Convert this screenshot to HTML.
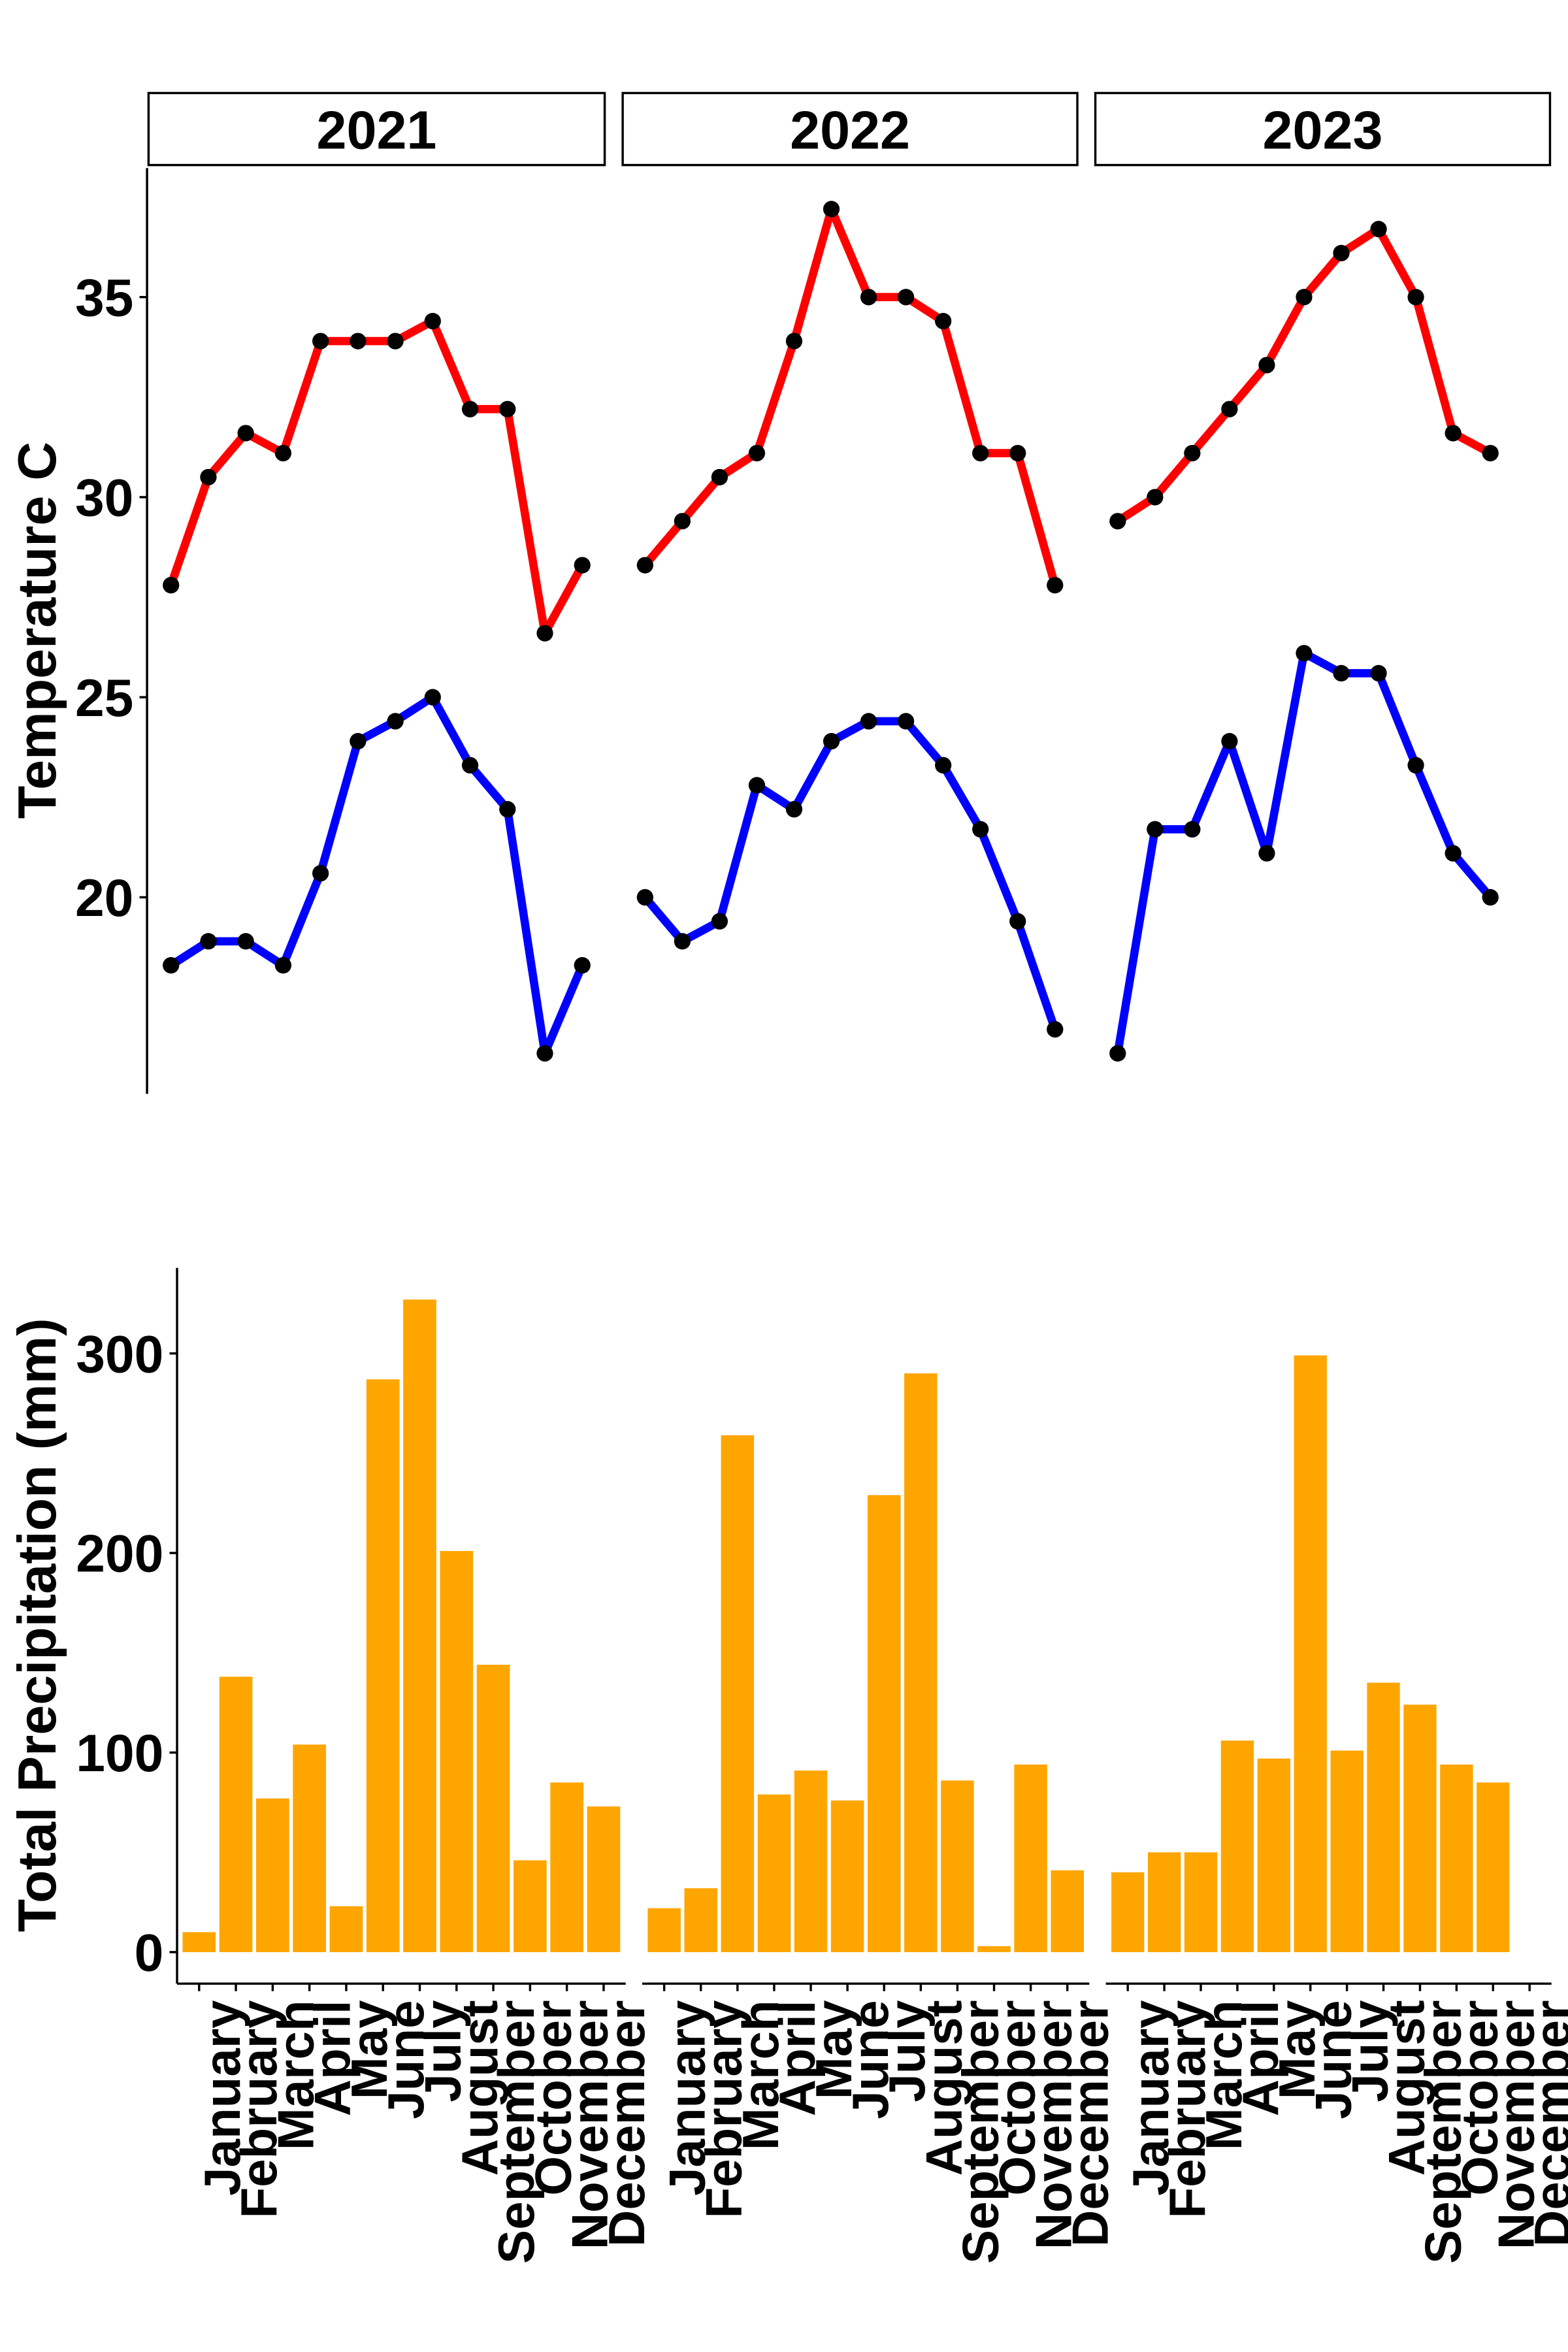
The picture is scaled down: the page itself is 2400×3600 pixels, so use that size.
<!DOCTYPE html>
<html><head><meta charset="utf-8">
<style>html,body{margin:0;padding:0;background:#fff}svg{display:block}text{font-family:"Liberation Sans",Arial,sans-serif;font-weight:bold;fill:#000}</style>
</head><body>
<svg id="chart" width="2400" height="3600" viewBox="0 0 1045 1567.5" xmlns="http://www.w3.org/2000/svg">
<g id="topG"></g>
<g id="botG"></g>
</svg>
<script>
const years = ["2021","2022","2023"];
const months = ["January","February","March","April","May","June","July","August","September","October","November","December"];
const maxTemp2021 = [27.8,30.5,31.6,31.1,33.9,33.9,33.9,34.4,32.2,32.2,26.6,28.3];
const maxTemp2022 = [28.3,29.4,30.5,31.1,33.9,37.2,35,35,34.4,31.1,31.1,27.8];
const maxTemp2023 = [29.4,30,31.1,32.2,33.3,35,36.1,36.7,35,31.6,31.1];
const minTemp2021 = [18.3,18.9,18.9,18.3,20.6,23.9,24.4,25,23.3,22.2,16.1,18.3];
const minTemp2022 = [20,18.9,19.4,22.8,22.2,23.9,24.4,24.4,23.3,21.7,19.4,16.7];
const minTemp2023 = [16.1,21.7,21.7,23.9,21.1,26.1,25.6,25.6,23.3,21.1,20];
const precip2021 = [10,138,77,104,23,287,327,201,144,46,85,73];
const precip2022 = [22,32,259,79,91,76,229,290,86,3,94,41];
const precip2023 = [40,50,50,106,97,299,101,135,124,94,85];
const tempTicks = [20,25,30,35];
const precipTicks = [0,100,200,300];

const NS="http://www.w3.org/2000/svg";
function mk(parent,tag,attrs,txt){const e=document.createElementNS(NS,tag);for(const k in attrs)e.setAttribute(k,attrs[k]);if(txt!==undefined)e.textContent=txt;parent.appendChild(e);return e;}
const topG=document.getElementById('topG'), botG=document.getElementById('botG');
const maxT=[maxTemp2021,maxTemp2022,maxTemp2023], minT=[minTemp2021,minTemp2022,minTemp2023], pr=[precip2021,precip2022,precip2023];

const topPanels=[[99,403],[415,718],[730,1033]];
function tx(p,i){const a=topPanels[p][0],b=topPanels[p][1];const s=(b-a)/12.2;return a+(0.6+i)*s;}
function ty(v){return 598-(v-20)*(400/15);}
topPanels.forEach((r,p)=>{
  const s=mk(topG,'rect',{x:r[0],y:62,width:r[1]-r[0],height:48,fill:'#fff',stroke:'#000','stroke-width':1.5});
  
  
  const t=mk(topG,'text',{x:(r[0]+r[1])/2,y:99,'text-anchor':'middle','font-size':36},years[p]);
  
  
});
const ya=mk(topG,'line',{x1:98,y1:112,x2:98,y2:729,stroke:'#000','stroke-width':1.5});


tempTicks.forEach(v=>{
  mk(topG,'line',{x1:93,x2:98,y1:ty(v),y2:ty(v),stroke:'#000','stroke-width':1.5});
  const t=mk(topG,'text',{x:89,y:ty(v)+12.5,'text-anchor':'end','font-size':35},String(v));
  
  
});
const yt=mk(topG,'text',{x:0,y:0,transform:'translate(37,420) rotate(-90)','text-anchor':'middle','font-size':36},'Temperature C');


[[maxT,'#ff0000','max'],[minT,'#0000ff','min']].forEach(([ser,col,nm])=>{
  ser.forEach((arr,p)=>{
    const pts=arr.map((v,i)=>tx(p,i)+','+ty(v)).join(' ');
    const l=mk(topG,'polyline',{points:pts,fill:'none',stroke:col,'stroke-width':5.5,'stroke-linejoin':'round'});
    
    
    arr.forEach((v,i)=>{
      const c=mk(topG,'circle',{cx:tx(p,i),cy:ty(v),r:5.5,fill:'#000'});
      
      
    });
  });
});

const botPanels=[[118,417],[428,726],[737,1034]];
function bx(p,i){const a=botPanels[p][0],b=botPanels[p][1];const s=(b-a)/12.2;return a+(0.6+i)*s;}
function by(v){return 1301-v*(399/300);}
const ba=mk(botG,'line',{x1:118,y1:845,x2:118,y2:1322,stroke:'#000','stroke-width':1.5});


precipTicks.forEach(v=>{
  mk(botG,'line',{x1:113,x2:118,y1:by(v),y2:by(v),stroke:'#000','stroke-width':1.5});
  const t=mk(botG,'text',{x:109,y:by(v)+12.5,'text-anchor':'end','font-size':35},String(v));
  
  
});
const pt=mk(botG,'text',{x:0,y:0,transform:'translate(37,1083) rotate(-90)','text-anchor':'middle','font-size':36},'Total Precipitation (mm)');


botPanels.forEach((r,p)=>{
  const s=(r[1]-r[0])/12.2;
  const xl=mk(botG,'line',{x1:r[0],x2:r[1],y1:1322,y2:1322,stroke:'#000','stroke-width':1.5});
  
  
  pr[p].forEach((v,i)=>{
    const b=mk(botG,'rect',{x:bx(p,i)-s*0.45,y:by(v),width:s*0.9,height:by(0)-by(v),fill:'#ffa500'});
    
    
  });
  months.forEach((m,i)=>{
    const x=bx(p,i);
    mk(botG,'line',{x1:x,x2:x,y1:1322,y2:1327,stroke:'#000','stroke-width':1.5});
    const t=mk(botG,'text',{x:0,y:0,transform:'translate('+(x+27)+',1333) rotate(-90)','text-anchor':'end','font-size':34},m);
    
    
  });
});
</script>
</body></html>
